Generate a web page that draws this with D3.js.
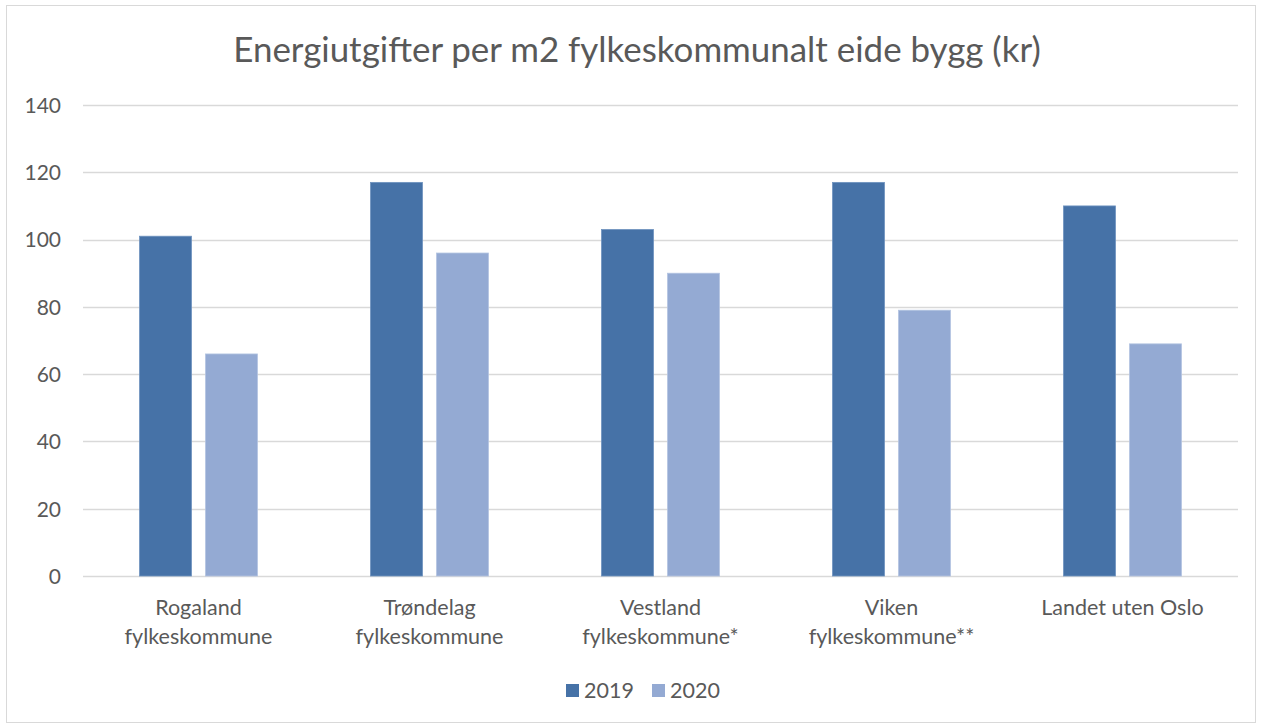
<!DOCTYPE html>
<html>
<head>
<meta charset="utf-8">
<script src="https://cdn.jsdelivr.net/npm/d3@7"></script>
<style>
html,body{margin:0;padding:0;background:#fff;}
svg{display:block;font-family:Lato,"Open Sans",sans-serif;}
</style>
</head>
<body>
<svg id="chart" width="1266" height="725"></svg>
<script>
const title = "Energiutgifter per m2 fylkeskommunalt eide bygg (kr)";
const categories = [
  ["Rogaland", "fylkeskommune"],
  ["Trøndelag", "fylkeskommune"],
  ["Vestland", "fylkeskommune*"],
  ["Viken", "fylkeskommune**"],
  ["Landet uten Oslo"]
];
const seriesNames = ["2019", "2020"];
const values2019 = [101, 117, 103, 117, 110];
const values2020 = [66, 96, 90, 79, 69];
const yTicks = [0, 20, 40, 60, 80, 100, 120, 140];

const colors = ["#4672A7", "#94AAD3"];
const svg = d3.select("#chart");
const W = 1266, H = 725;
const m = {left: 83, right: 28, top: 105, bottom: 149};

// frame
svg.append("rect").attr("x", 6.5).attr("y", 5.5).attr("width", 1249).attr("height", 717)
  .attr("fill", "#fff").attr("stroke", "#d9d9d9").attr("stroke-width", 1);

const x = d3.scaleBand().domain(d3.range(categories.length)).range([m.left, W - m.right]);
const y = d3.scaleLinear().domain([0, 140]).range([H - m.bottom, m.top]);

const barW = 52, gap = 14;

// gridlines
const grid = svg.append("g");
grid.selectAll("line").data(yTicks).join("line")
  .attr("x1", m.left).attr("x2", W - m.right)
  .attr("y1", d => Math.round(y(d)) + 0.5).attr("y2", d => Math.round(y(d)) + 0.5)
  .attr("stroke", "#d9d9d9").attr("stroke-width", 1.3);

// y axis labels
const yAxis = d3.axisLeft(y).tickValues(yTicks).tickSize(0).tickPadding(0);
const ya = svg.append("g").attr("transform", `translate(61,0)`).call(yAxis);
ya.select(".domain").remove();
ya.selectAll("text").attr("font-size", 21).attr("fill", "#595959").attr("font-family", "Lato").attr("dy", "0.35em");

// bars
const data = [values2019, values2020];
const groupW = barW * 2 + gap;
data.forEach((vals, si) => {
  svg.append("g").selectAll("rect").data(vals).join("rect")
    .attr("x", (d, i) => x(i) + (x.bandwidth() - groupW) / 2 + si * (barW + gap))
    .attr("width", barW)
    .attr("y", d => y(d))
    .attr("height", d => y(0) - y(d))
    .attr("fill", colors[si])
    .attr("stroke", si === 0 ? "#6f93bf" : "#b3c4e1").attr("stroke-width", 0.8);
});

// category labels
const cl = svg.append("g");
categories.forEach((lines, i) => {
  const t = cl.append("text").attr("text-anchor", "middle").attr("font-size", 21.5).attr("fill", "#595959")
    .attr("x", x(i) + x.bandwidth() / 2).attr("y", 615);
  lines.forEach((ln, j) => t.append("tspan").attr("x", x(i) + x.bandwidth() / 2).attr("dy", j === 0 ? 0 : 29).text(ln));
});

// title
const tt = svg.append("text").attr("x", 637).attr("y", 62).attr("text-anchor", "middle")
  .attr("font-size", 30).attr("fill", "#595959").text(title);
const tw = tt.node().getComputedTextLength();
tt.attr("font-size", 30 * 808 / tw);

// legend
const legX = [566, 652];
const lg = svg.append("g");
seriesNames.forEach((s, i) => {
  lg.append("rect").attr("x", legX[i]).attr("y", 684).attr("width", 13).attr("height", 13).attr("fill", colors[i]);
  lg.append("text").attr("x", legX[i] + 18).attr("y", 698).attr("font-size", 21.5).attr("fill", "#595959").text(s);
});
</script>
</body>
</html>
